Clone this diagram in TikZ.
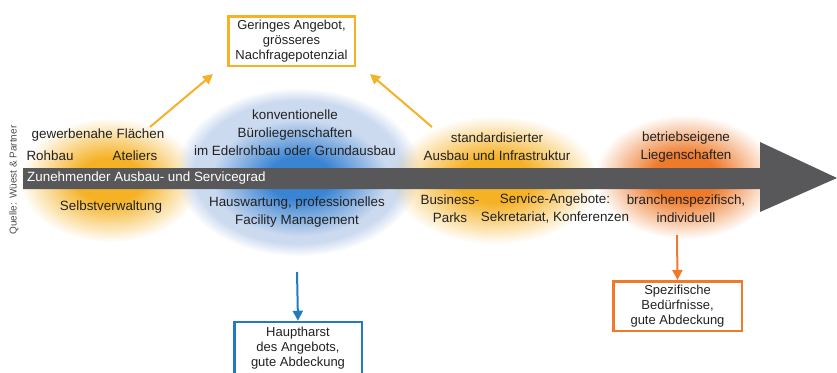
\documentclass[tikz,border=0pt]{standalone}
\usepackage{fontspec}
\setmainfont{Liberation Sans}
\usetikzlibrary{arrows.meta,fadings}
\definecolor{bandgray}{HTML}{58585A}
\definecolor{yel}{HTML}{F5B227}
\definecolor{org}{HTML}{EE7A2A}
\definecolor{blu}{HTML}{1F7BC2}
\definecolor{blucore}{HTML}{2A7BD0}
\definecolor{blulight}{HTML}{CCDAF0}
\definecolor{txt}{HTML}{222222}
\pgfdeclareradialshading{softshade}{\pgfpointorigin}{color(0bp)=(white);color(9bp)=(white);color(25bp)=(black);color(50bp)=(black)}
\tikzfading[name=softglow, shading=softshade]
\tikzfading[name=glow, inner color=transparent!0, outer color=transparent!100]
\begin{document}
\begin{tikzpicture}[x=1pt,y=-1pt,
  every node/.style={text=txt},
  lbl/.style={align=center, inner sep=0pt, font=\fontsize{13.4}{18}\selectfont},
  boxed/.style={draw, line width=2.5pt, fill=white, align=center, inner sep=0pt,
    font=\fontsize{13}{15}\selectfont},
  conn/.style={line width=2pt, -{Triangle[length=10pt,width=10pt]}}]
\useasboundingbox (0,0) rectangle (837,372);
\clip (0,0) rectangle (837,372);
% glows
\fill[yel, path fading=softglow] (110,180) ellipse [x radius=90pt, y radius=62pt];
\fill[blulight, path fading=circle with fuzzy edge 15 percent] (298,172) ellipse [x radius=122pt, y radius=84pt];
\fill[blucore, path fading=softglow, fill opacity=0.9] (300,178) ellipse [x radius=88pt, y radius=58pt];
\fill[yel, path fading=softglow] (495,180) ellipse [x radius=104pt, y radius=64pt];
\fill[org, path fading=softglow] (685,177) ellipse [x radius=90pt, y radius=62pt];
% band arrow
\fill[bandgray] (23,168) -- (760,168) -- (760,142) -- (837,178) -- (760,212) -- (760,189) -- (23,189) -- cycle;
\node[lbl, anchor=west, text=white] (band) at (27,178.5) {Zunehmender Ausbau- und Servicegrad};
\node[rotate=90, inner sep=0pt, text=black!70, font=\fontsize{10}{12}\selectfont] (src) at (14,180) {Quelle: Wüest \& Partner};
% left cluster
\node[lbl] (gew) at (98,135) {gewerbenahe Flächen};
\node[lbl] (roh) at (50,156) {Rohbau};
\node[lbl] (ate) at (135,156) {Ateliers};
\node[lbl] (sel) at (111,207) {Selbstverwaltung};
% blue cluster
\node[lbl] (konv) at (295,133) {konventionelle\\Büroliegenschaften\\im Edelrohbau oder Grundausbau};
\node[lbl] (haus) at (297,212) {Hauswartung, professionelles\\Facility Management};
% middle cluster
\node[lbl] (std) at (497,147) {standardisierter\\Ausbau und Infrastruktur};
\node[lbl] (bus) at (450,208.5) {Business-\\Parks};
\node[lbl] (serv) at (555,208.5) {Service-Angebote:\\Sekretariat, Konferenzen};
% right cluster
\node[lbl] (betr) at (686,147) {betriebseigene\\Liegenschaften};
\node[lbl] (bran) at (686,208.5) {branchenspezifisch,\\individuell};
% boxes
\node[boxed, draw=yel, minimum width=126.5pt, minimum height=49.5pt] (top) at (291.5,41) {Geringes Angebot,\\grösseres\\Nachfragepotenzial};
\node[boxed, draw=blu, minimum width=127.5pt, minimum height=52pt] (mainbox) at (298,348) {Hauptharst\\des Angebots,\\gute Abdeckung};
\node[boxed, draw=org, minimum width=128.5pt, minimum height=49.5pt] (spec) at (677.5,306) {Spezifische\\Bedürfnisse,\\gute Abdeckung};
% connectors
\coordinate (ls) at (150,127);
\coordinate (lt) at (213,74);
\coordinate (rs) at (432,127);
\coordinate (rt) at (370,74);
\coordinate (bs) at (297,272);
\coordinate (os) at (677,235);
\draw[conn, yel] (ls) -- (lt);
\draw[conn, yel] (rs) -- (rt);
\draw[conn, blu] (bs) -- (mainbox.north);
\draw[conn, org] (os) -- (spec.north);
\end{tikzpicture}
\end{document}
